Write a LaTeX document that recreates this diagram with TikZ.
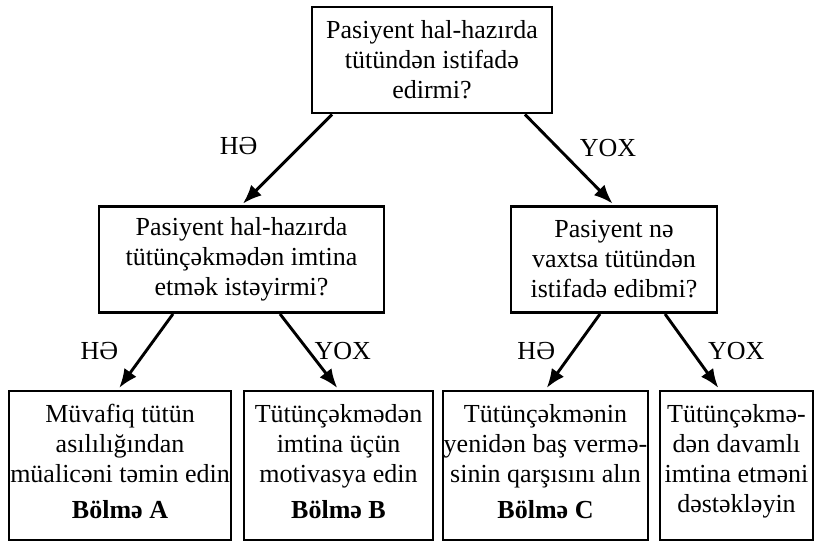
\documentclass[tikz,border=0pt]{standalone}
\usepackage{fontspec}
\setmainfont{Liberation Serif}
\usetikzlibrary{arrows.meta}

\begin{document}
\begin{tikzpicture}[x=1pt,y=-1pt]
      \tikzstyle{qbox}=[draw, line width=2.9pt, align=center, inner sep=0pt,
        minimum height=106pt, font=\fontsize{26}{30}\selectfont];
      \tikzstyle{abox}=[draw, line width=2.9pt, inner sep=0pt,
        minimum height=149pt, font=\fontsize{26}{30}\selectfont];
      \tikzstyle{arr}=[line width=2.9pt, -{Latex[length=19pt,width=15pt]},
        shorten >=2pt];
      \tikzstyle{lbl}=[inner sep=0pt, font=\fontsize{26}{30}\selectfont];
      \useasboundingbox (0,0) rectangle (816,541);
      % questions
      \draw (432,60) node[style=qbox,minimum width=240pt] (q1)
        {Pasiyent hal-hazırda\\tütündən istifadə\\edirmi?};
      \draw (241.5,259.5) node[style=qbox,minimum width=285pt] (q2)
        {Pasiyent hal-hazırda\\tütünçəkmədən imtina\\etmək istəyirmi?};
      \draw (614,259.5) node[style=qbox,minimum width=206pt] (q3)
        {Pasiyent nə\\vaxtsa tütündən\\istifadə edibmi?};
      % answers
      \draw (120,465.5) node[style=abox,minimum width=222pt] (a)
        {\raisebox{0pt}[31pt][118pt]{\begin{tabular}[t]{@{}c@{}}Müvafiq tütün\\
        asılılığından\\müalicəni təmin edin\\[6pt]\textbf{Bölmə A}\end{tabular}}};
      \draw (338.5,465.5) node[style=abox,minimum width=189pt] (b)
        {\raisebox{0pt}[31pt][118pt]{\begin{tabular}[t]{@{}c@{}}Tütünçəkmədən\\
        imtina üçün\\motivasya edin\\[6pt]\textbf{Bölmə B}\end{tabular}}};
      \draw (545.5,465.5) node[style=abox,minimum width=205pt] (c)
        {\raisebox{0pt}[31pt][118pt]{\begin{tabular}[t]{@{}c@{}}Tütünçəkmənin\\
        yenidən baş vermə-\\sinin qarşısını alın\\[6pt]\textbf{Bölmə C}\end{tabular}}};
      \draw (736.5,465.5) node[style=abox,minimum width=153pt] (d)
        {\raisebox{0pt}[31pt][118pt]{\begin{tabular}[t]{@{}c@{}}Tütünçəkmə-\\
        dən davamlı\\imtina etməni\\dəstəkləyin\end{tabular}}};
      % arrows
      \draw[arr] ([xshift=-100pt]q1.south) -- node[style=lbl,xshift=-48pt,yshift=13.5pt] (l1) {HƏ} (q2.north);
      \draw[arr] ([xshift=93pt]q1.south) -- node[style=lbl,xshift=38.5pt,yshift=12pt] (l2) {YOX} (q3.north);
      \draw[arr] ([xshift=-68.5pt]q2.south) -- node[style=lbl,xshift=-46pt,yshift=1pt] (l3) {HƏ} ([xshift=-2pt]a.north);
      \draw[arr] ([xshift=38.5pt]q2.south) -- node[style=lbl,xshift=33.5pt,yshift=1pt] (l4) {YOX} (b.north);
      \draw[arr] ([xshift=-14pt]q3.south) -- node[style=lbl,xshift=-36.5pt,yshift=1pt] (l5) {HƏ} (c.north);
      \draw[arr] ([xshift=51pt]q3.south) -- node[style=lbl,xshift=44pt,yshift=1pt] (l6) {YOX} ([xshift=-17pt]d.north);
    \end{tikzpicture}
\end{document}
